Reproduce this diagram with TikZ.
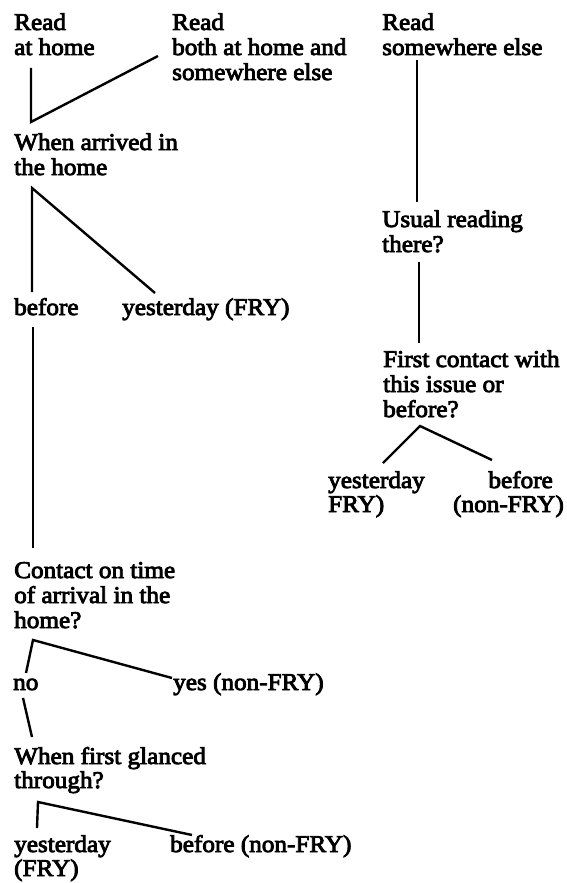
\documentclass[tikz,border=0pt]{standalone}
\usepackage{fontspec}
\newfontfamily\scanfont{Liberation Serif}[FakeBold=3.5,FakeStretch=1.05]
\begin{document}
\begin{tikzpicture}[x=1pt,y=-1pt,
  txt/.style={anchor=base west, inner sep=0pt, font=\scanfont\fontsize{24}{24.5}\selectfont},
  txtr/.style={txt, anchor=base east},
  branch/.style={draw=black, line width=2.4pt, line join=miter}]
\useasboundingbox[fill=white] (0,0) rectangle (567,883);
% top row
\node[txt] (r1a) at (14,30) {Read};
\node[txt] (r1b) at (14,55) {at home};
\node[txt] (r2a) at (172,30) {Read};
\node[txt] (r2b) at (172,55) {both at home and};
\node[txt] (r2c) at (172,80) {somewhere else};
\node[txt] (r3a) at (382,30) {Read};
\node[txt] (r3b) at (382,55) {somewhere else};
% left column
\node[txt] (wa1) at (14,150) {When arrived in};
\node[txt] (wa2) at (14,175) {the home};
\node[txt] (bef) at (14,315) {before};
\node[txt] (yfry) at (122,315) {yesterday (FRY)};
\node[txt] (ct1) at (14,578) {Contact on time};
\node[txt] (ct2) at (14,603) {of arrival in the};
\node[txt] (ct3) at (14,628) {home?};
\node[txt] (no) at (13,690) {no};
\node[txt] (yes) at (173,690) {yes (non-FRY)};
\node[txt] (wf1) at (14,764) {When first glanced};
\node[txt] (wf2) at (14,788) {through?};
\node[txt] (ly1) at (14,852) {yesterday};
\node[txt] (ly2) at (14,876) {(FRY)};
\node[txt] (lb) at (170,852) {before (non-FRY)};
% right column
\node[txt] (ur1) at (382,227) {Usual reading};
\node[txt] (ur2) at (382,252) {there?};
\node[txt] (fc1) at (383,367) {First contact with};
\node[txt] (fc2) at (383,392) {this issue or};
\node[txt] (fc3) at (383,417) {before?};
\node[txt] (ry1) at (328,488) {yesterday};
\node[txt] (ry2) at (328,512) {FRY)};
\node[txtr] (rb1) at (553,488) {before};
\node[txtr] (rb2) at (564,512) {(non-FRY)};
% connector points
\coordinate (c1top) at (31,68);
\coordinate (c1ap) at (31,122);
\coordinate (c1end) at (158,56);
\coordinate (c2ap) at (32,188);
\coordinate (c2l) at (32,292);
\coordinate (c2r) at (155,293);
\coordinate (c3t) at (33,327);
\coordinate (c3b) at (33,548);
\coordinate (c4ap) at (33,640);
\coordinate (c4l) at (26,673);
\coordinate (c4r) at (172,678);
\coordinate (c5t) at (23,698);
\coordinate (c5b) at (32,737);
\coordinate (c6ap) at (38,802);
\coordinate (c6l) at (37,828);
\coordinate (c6r) at (192,835);
\coordinate (d1t) at (417,60);
\coordinate (d1b) at (417,202);
\coordinate (d2t) at (419,262);
\coordinate (d2b) at (419,343);
\coordinate (d3ap) at (420,426);
\coordinate (d3l) at (383,463);
\coordinate (d3r) at (492,460);
% connectors
\draw[branch] (c1top) -- (c1ap) -- (c1end);
\draw[branch] (c2l) -- (c2ap) -- (c2r);
\draw[branch] (c3t) -- (c3b);
\draw[branch] (c4l) -- (c4ap) -- (c4r);
\draw[branch] (c5t) -- (c5b);
\draw[branch] (c6l) -- (c6ap) -- (c6r);
\draw[branch] (d1t) -- (d1b);
\draw[branch] (d2t) -- (d2b);
\draw[branch] (d3l) -- (d3ap) -- (d3r);
\end{tikzpicture}
\end{document}
